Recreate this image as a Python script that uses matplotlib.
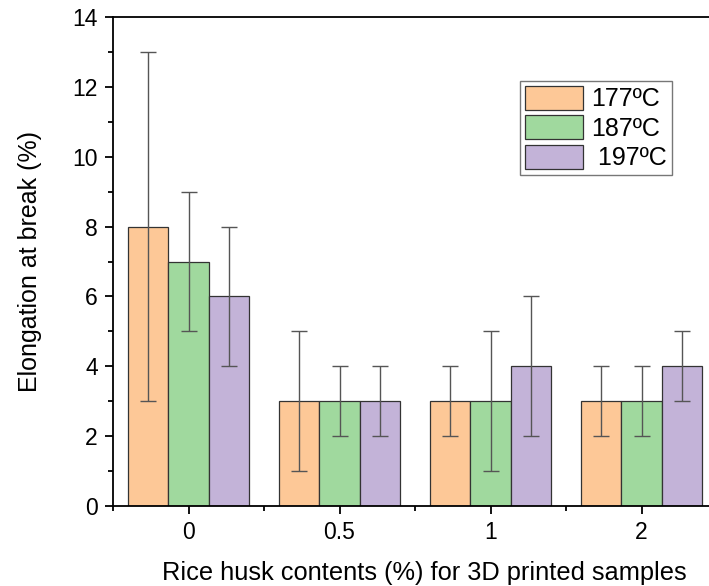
import matplotlib
matplotlib.use("Agg")
import matplotlib.pyplot as plt
import numpy as np
from matplotlib.ticker import MultipleLocator, FixedLocator

plt.rcParams['font.family'] = ['Liberation Sans', 'DejaVu Sans']

categories = ["0", "0.5", "1", "2"]
series_labels = ["177ºC", "187ºC", " 197ºC"]
values = [
    [8, 3, 3, 3],
    [7, 3, 3, 3],
    [6, 3, 4, 4],
]
errors = [
    [5, 2, 1, 1],
    [2, 1, 2, 1],
    [2, 1, 2, 1],
]
colors = ["#FDC897", "#A0D99E", "#C3B3D8"]

fig = plt.figure(figsize=(7.09, 5.86), dpi=100)
ax = fig.add_axes([113/709, 80/586, (717-113)/709, (506-17)/586])

x = np.arange(len(categories))
w = 0.267
for i in range(3):
    ax.bar(x + (i-1)*w, values[i], w, color=colors[i], edgecolor="#333333", linewidth=0.9,
           label=series_labels[i], zorder=2)
    ax.errorbar(x + (i-1)*w, values[i], yerr=errors[i], fmt='none', ecolor="#555555",
                elinewidth=1.0, capsize=6, capthick=1.0, zorder=3)

ax.set_xlim(-0.5, 3.5)
ax.set_ylim(0, 14)
ax.set_xticks(x)
ax.set_xticklabels(categories)
ax.xaxis.set_minor_locator(FixedLocator([-0.5, 0.5, 1.5, 2.5, 3.5]))
ax.yaxis.set_major_locator(MultipleLocator(2))
ax.yaxis.set_minor_locator(MultipleLocator(1))
ax.tick_params(axis='both', which='major', direction='out', length=6, width=1.3, labelsize=16.5, pad=5)
ax.tick_params(axis='both', which='minor', direction='out', length=3.5, width=1.3)
ax.tick_params(top=False, right=False, which='both')
for s in ax.spines.values():
    s.set_linewidth(1.3)

ax.set_ylabel("Elongation at break (%)", fontsize=18, labelpad=22)
ax.set_xlabel("Rice husk contents (%) for 3D printed samples", fontsize=18.3, labelpad=12)
ax.xaxis.label.set_x((424 - 113) / 604)

leg = ax.legend(loc='upper left', bbox_to_anchor=((520-113)/604, (586-81-80)/489), fontsize=18,
                frameon=True, fancybox=False, edgecolor="#777777", framealpha=1,
                handlelength=2.3, handleheight=1.1, handletextpad=0.35, borderpad=0.2,
                labelspacing=0.15, borderaxespad=0)
leg.get_frame().set_linewidth(1.0)

fig.savefig("out.png", dpi=100)
